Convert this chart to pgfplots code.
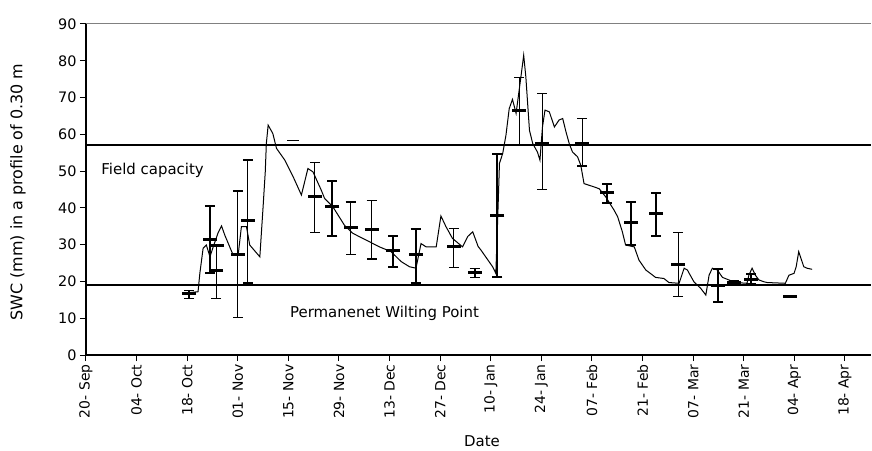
\documentclass[border=0pt]{standalone}
\usepackage{fontspec}
\setmainfont{DejaVu Sans}
\usepackage{pgfplots}
\usepackage{pgfplotstable}
\pgfplotsset{compat=1.18}

\pgfplotstableread{
x y ep em
28.5 16.8 0.8 1.5
34.3 31.5 9.0 9.2
36.3 29.9 0 0
68.2 40.3 7.0 8.0
85.0 28.3 4.0 4.4
91.2 27.2 7.0 7.6
107.5 22.5 1.0 1.4
113.8 37.8 16.8 16.6
144.2 44.3 2.2 3.0
150.8 35.9 5.7 6.0
157.7 38.6 5.4 6.3
174.9 19.0 4.4 4.6
179.3 19.6 0.5 0.5
184.0 20.5 1.5 1.0
194.8 15.8 0 0
}\thickbars

\pgfplotstableread{
x y ep em
36.0 23.0 7.0 7.7
42.0 27.2 17.4 17.1
44.8 36.7 16.3 17.1
63.3 43.0 9.4 9.8
73.2 34.8 6.8 7.4
79.0 34.2 7.9 8.1
101.7 29.6 4.9 5.7
119.9 66.6 8.9 9.3
126.2 57.6 13.6 12.5
137.3 57.6 6.8 6.2
163.8 24.5 8.7 8.7
}\thinbars

\begin{document}
\begin{tikzpicture}
\begin{axis}[
  at={(0,0)}, anchor=south west,
  scale only axis, width=785bp, height=331bp,
  xmin=0, xmax=217.2, ymin=0, ymax=90,
  axis lines=left,
  x axis line style={-, line width=1.5bp},
  y axis line style={-, line width=2.5bp},
  xtick={0,14,...,210},
  xticklabels={20- Sep,04- Oct,18- Oct,01- Nov,15- Nov,29- Nov,13- Dec,27- Dec,10- Jan,24- Jan,07- Feb,21- Feb,07- Mar,21- Mar,04- Apr,18- Apr},
  xticklabel style={rotate=90, anchor=east, font=\fontsize{14}{14}\selectfont},
  ytick={0,10,...,90},
  yticklabel style={font=\fontsize{14.5}{14.5}\selectfont},
  /pgf/number format/assume math mode=true,
  tick align=outside, major tick length=6bp,
  tick style={black, line width=1bp},
  clip=false,
]
\draw[gray, line width=1bp] (rel axis cs:0,1) -- (rel axis cs:1,1);
\addplot[black, line width=2.5bp, no marks] coordinates {(0,57.1) (217.2,57.1)};
\addplot[black, line width=2.5bp, no marks] coordinates {(0,19.0) (217.2,19.0)};

\addplot[black, line width=1bp, no marks] coordinates {
(26.9,16.8) (31.0,17.2) (31.5,22.2) (32.4,29.0) (33.3,29.9) (34.3,26.7) (35.2,29.4)
(36.5,33.1) (37.5,35.1) (38.4,32.6) (40.7,27.2) (42.1,27.2) (43.0,34.9) (44.4,34.9)
(45.3,29.9) (48.1,26.7) (49.0,40.3) (49.6,49.8) (49.9,57.5) (50.4,62.5) (51.7,60.2)
(52.7,56.2) (55.0,53.0) (57.3,48.5) (59.6,43.5) (61.4,50.7) (62.8,49.8) (65.1,44.8)
(66.0,42.6) (68.3,40.3) (71.5,35.3) (73.8,33.1) (76.6,31.7) (79.4,30.3) (81.2,29.4)
(84.4,28.1) (87.2,25.4) (89.5,24.0) (91.3,23.6) (92.7,30.3) (94.1,29.4) (96.9,29.4)
(98.2,37.8) (99.6,34.9) (101.4,31.7) (104.2,29.4) (105.6,32.2) (107.0,33.5) (108.5,29.5)
(109.3,28.5) (112.5,24.0) (113.4,22.2) (113.9,36.7) (114.4,52.1) (115.3,54.8) (116.2,59.8)
(117.1,67.0) (118.0,69.5) (119.0,65.7) (120.4,76.1) (121.1,81.5) (121.7,75.6) (122.7,61.1)
(123.6,57.5) (124.9,55.2) (125.6,53.0) (126.3,62.0) (127.0,66.6) (128.2,66.1) (129.6,62.0)
(130.9,63.9) (131.9,64.3) (132.8,60.7) (133.7,57.5) (134.6,55.2) (136.0,53.9) (136.9,51.6)
(137.8,46.6) (140.6,45.7) (142.0,45.2) (143.8,43.0) (146.1,39.4) (147.1,37.6) (148.4,33.5)
(149.3,29.9) (151.7,29.4) (153.0,25.8) (154.9,23.1) (157.6,21.1) (159.9,20.8) (161.3,19.7)
(164.1,19.5) (165.5,23.6) (166.4,23.1) (168.2,19.9) (170.1,18.1) (171.5,16.3) (172.4,21.7)
(173.3,23.6) (174.7,23.1) (176.1,21.1) (177.9,20.4) (179.7,19.7) (182.9,19.5) (183.4,21.7)
(184.3,23.6) (185.2,21.7) (186.2,20.4) (187.6,19.9) (188.5,19.7) (193.5,19.5) (194.5,21.7)
(195.9,22.2) (196.5,24.0) (197.2,28.1) (198.6,24.0) (199.5,23.6) (200.9,23.3)
};

\addplot[black, only marks, mark=-, mark size=7bp, mark options={line width=3bp},
  error bars/.cd, y dir=both, y explicit,
  error bar style={line width=2bp},
  error mark options={rotate=90, mark size=5bp, line width=1.5bp}]
  table[x=x, y=y, y error plus=ep, y error minus=em] {\thickbars};

\addplot[black, only marks, mark=-, mark size=7bp, mark options={line width=3bp},
  error bars/.cd, y dir=both, y explicit,
  error bar style={line width=0.9bp},
  error mark options={rotate=90, mark size=5bp, line width=1.2bp}]
  table[x=x, y=y, y error plus=ep, y error minus=em] {\thinbars};

\addplot[black, only marks, mark=-, mark size=6bp, mark options={line width=0.9bp}]
  coordinates {(57.2,58.4)};

\node[anchor=west, font=\fontsize{15}{15}\selectfont] at (axis cs:3.3,50.3) {Field capacity};
\node[anchor=west, font=\fontsize{15}{15}\selectfont] at (axis cs:55.5,11.4) {Permanenet Wilting Point};
\end{axis}
\node[rotate=90, font=\fontsize{16}{16}\selectfont] at (-68bp,163bp) {SWC (mm) in a profile of 0.30 m};
\node[font=\fontsize{15}{15}\selectfont] at (396bp,-86bp) {Date};
\pgfresetboundingbox
\useasboundingbox (-86bp,-96bp) rectangle (786bp,355bp);
\end{tikzpicture}
\end{document}
